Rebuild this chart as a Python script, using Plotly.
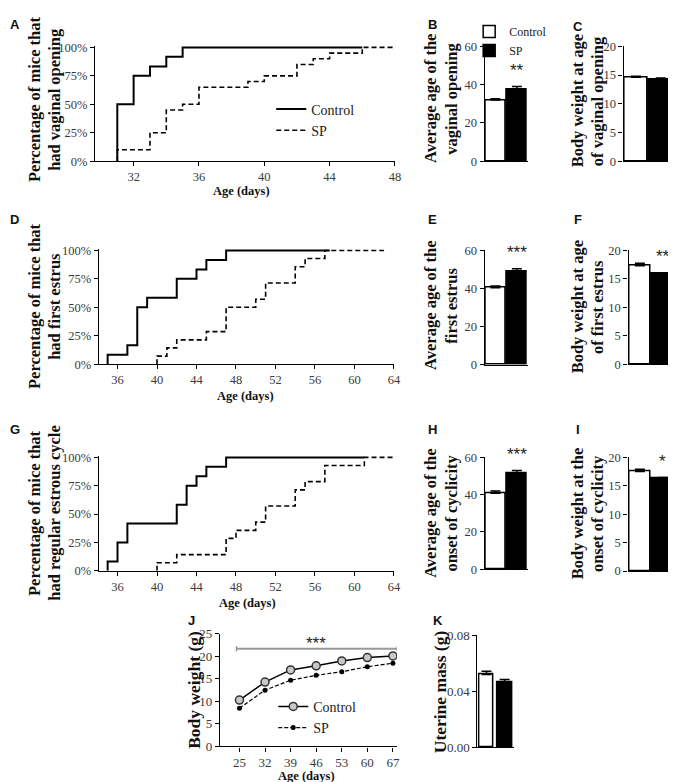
import plotly.graph_objects as go

W, H = 676, 782
SERIF = "'Liberation Serif', 'Times New Roman', Times, serif"
SANS = "'Liberation Sans', Arial, sans-serif"

# ---- data ----
groups = ["Control", "SP"]

# A: vaginal opening (cumulative %)
a_ctrl_day = [31, 31, 32, 33, 34, 35, 46]
a_ctrl_pct = [0, 50, 75, 83.3, 91.7, 100, 100]
a_sp_day = [31, 31, 33, 34, 35, 36, 39, 40, 42, 43, 44, 46, 48]
a_sp_pct = [0, 10, 25, 45, 50, 65, 70, 75, 85, 90, 95, 100, 100]

# D: first estrus
d_ctrl_day = [35, 35, 37, 38, 39, 42, 44, 45, 47, 57.5]
d_ctrl_pct = [0, 8.3, 16.7, 50, 58.3, 75, 83.3, 91.7, 100, 100]
d_sp_day = [40, 40, 41, 42, 45, 47, 50, 51, 54, 55, 57, 63]
d_sp_pct = [0, 7.1, 14.3, 21.4, 28.6, 50, 57.1, 71.4, 85.7, 92.9, 100, 100]

# G: regular estrous cycle
g_ctrl_day = [35, 35, 36, 37, 42, 43, 44, 45, 47, 61]
g_ctrl_pct = [0, 8.3, 25, 41.7, 58.3, 75, 83.3, 91.7, 100, 100]
g_sp_day = [40, 40, 42, 47, 48, 50, 51, 54, 55, 57, 61, 64]
g_sp_pct = [0, 7.1, 14.3, 28.6, 35.7, 42.9, 57.1, 71.4, 78.6, 92.9, 100, 100]

pct_ticks = [0, 25, 50, 75, 100]
pct_labels = ["0%", "25%", "50%", "75%", "100%"]

# bar panels: mean, SEM
b_mean, b_err = [32.0, 37.5], [0.6, 1.5]
c_mean, c_err = [14.6, 14.3], [0.2, 0.2]
e_mean, e_err = [40.4, 49.0], [1.0, 1.4]
f_mean, f_err = [17.3, 15.9], [0.45, 0.15]
h_mean, h_err = [40.8, 51.6], [1.1, 1.3]
i_mean, i_err = [17.5, 16.3], [0.4, 0.15]
k_mean, k_err = [0.052, 0.0465], [0.0022, 0.0019]

# J: body weight over time
j_age = [25, 32, 39, 46, 53, 60, 67]
j_ctrl = [10.3, 14.3, 17.0, 17.9, 19.0, 19.75, 20.1]
j_sp = [8.5, 12.5, 14.7, 15.8, 16.6, 17.7, 18.5]


def xdom(l, r):
    return [l / W, r / W]


def ydom(t, b):
    return [1 - b / H, 1 - t / H]


def ax(n):
    return ("x", "y") if n == 1 else (f"x{n}", f"y{n}")


fig = go.Figure()


def add_steps(n, cd, cp, sd, sp, legend=None):
    xa, ya = ax(n)
    fig.add_trace(go.Scatter(x=cd, y=cp, mode="lines", line_shape="hv",
                             line=dict(color="black", width=2),
                             name="Control", xaxis=xa, yaxis=ya,
                             showlegend=legend is not None, legend=legend))
    fig.add_trace(go.Scatter(x=sd, y=sp, mode="lines", line_shape="hv",
                             line=dict(color="black", width=1.6, dash="5px,3px"),
                             name="SP", xaxis=xa, yaxis=ya,
                             showlegend=legend is not None, legend=legend))


def add_bars(n, mean, err, width=0.95, legend=None):
    xa, ya = ax(n)
    for i, (fill, g) in enumerate(zip(["white", "black"], groups)):
        fig.add_trace(go.Bar(
            x=[i], y=[mean[i]], width=width, name=g,
            marker=dict(color=fill, line=dict(color="black", width=1.5)),
            error_y=dict(type="data", symmetric=False, array=[err[i]],
                         arrayminus=[0], color="black", thickness=1.5, width=5),
            xaxis=xa, yaxis=ya, showlegend=legend is not None, legend=legend))


add_steps(1, a_ctrl_day, a_ctrl_pct, a_sp_day, a_sp_pct, legend="legend")
add_bars(2, b_mean, b_err, legend="legend2")
add_bars(3, c_mean, c_err)
add_steps(4, d_ctrl_day, d_ctrl_pct, d_sp_day, d_sp_pct)
add_bars(5, e_mean, e_err)
add_bars(6, f_mean, f_err)
add_steps(7, g_ctrl_day, g_ctrl_pct, g_sp_day, g_sp_pct)
add_bars(8, h_mean, h_err)
add_bars(9, i_mean, i_err)

fig.add_trace(go.Scatter(x=j_age, y=j_ctrl, mode="lines+markers", name="Control",
                         line=dict(color="black", width=1.5),
                         marker=dict(symbol="circle", size=8, color="#c8c8c8",
                                     line=dict(color="#333", width=1.5)),
                         xaxis="x10", yaxis="y10", legend="legend3"))
fig.add_trace(go.Scatter(x=j_age, y=j_sp, mode="lines+markers", name="SP",
                         line=dict(color="black", width=1.2, dash="4px,2px"),
                         marker=dict(symbol="circle", size=5, color="black"),
                         xaxis="x10", yaxis="y10", legend="legend3"))
add_bars(11, k_mean, k_err, width=0.8)

TICKFONT = dict(family=SERIF, size=12.5, color="#3a3a3a")
base = dict(showline=True, linecolor="black", linewidth=1.3, ticks="outside",
            ticklen=4, tickwidth=1.2, tickcolor="black", showgrid=False,
            zeroline=False, fixedrange=True, tickfont=TICKFONT)
bar_x = dict(base, ticks="", showticklabels=False)
big_ticks = dict(TICKFONT, size=13)

step_y = dict(base, range=[0, 101.5], tickmode="array", tickvals=pct_ticks,
              ticktext=pct_labels)
# pixel boxes (left, right, top, bottom)
axes = {
    1: (dict(base, range=[29.64, 48], tickvals=[32, 36, 40, 44, 48]), step_y, (88, 391, 31.3, 149)),
    2: (dict(bar_x, range=[-0.5, 1.5]), dict(base, range=[0, 60], dtick=20), (481.7, 525, 32, 149)),
    3: (dict(bar_x, range=[-0.5, 1.5]), dict(base, range=[0, 20], dtick=5), (622, 672, 32, 149)),
    4: (dict(base, range=[34.1, 64], tickvals=list(range(36, 65, 4))), step_y, (91.7, 390, 238.3, 356)),
    5: (dict(bar_x, range=[-0.5, 1.5]), dict(base, range=[0, 60], dtick=20), (481.7, 525, 240, 356.7)),
    6: (dict(bar_x, range=[-0.5, 1.5]), dict(base, range=[0, 20], dtick=5), (627, 673, 240, 356)),
    7: (dict(base, range=[34.1, 64], tickvals=list(range(36, 65, 4))), step_y, (91.7, 390, 449.3, 566.7)),
    8: (dict(bar_x, range=[-0.5, 1.5]), dict(base, range=[0, 60], dtick=20), (481.7, 525, 451, 565)),
    9: (dict(bar_x, range=[-0.5, 1.5]), dict(base, range=[0, 20], dtick=5), (627, 673, 451, 567)),
    10: (dict(base, range=[19.7, 68.1], tickvals=j_age, tickfont=big_ticks),
         dict(base, range=[0, 25], dtick=5, tickfont=big_ticks),
         (214.3, 393, 631, 745.7)),
    11: (dict(bar_x, range=[-0.5, 1.5]),
         dict(base, range=[0, 0.08], tickvals=[0, 0.04, 0.08], tickformat=".2f",
              tickfont=big_ticks),
         (474.3, 511, 632.3, 746.7)),
}

layout = {}
for n, (xd, yd, (l, r, t, b)) in axes.items():
    xa, ya = ax(n)
    kx = "xaxis" if n == 1 else f"xaxis{n}"
    ky = "yaxis" if n == 1 else f"yaxis{n}"
    layout[kx] = dict(xd, domain=xdom(l, r), anchor=ya)
    layout[ky] = dict(yd, domain=ydom(t, b), anchor=xa)


def ann(text, x, y, size, angle=0, family=SERIF, bold=True, color="#111"):
    return dict(text=f"<b>{text}</b>" if bold else text, x=x / W, y=1 - y / H,
                xref="paper", yref="paper", showarrow=False, textangle=angle,
                xanchor="center", yanchor="middle",
                font=dict(family=family, size=size, color=color))


annotations = []
# y titles (one annotation per line)
ytitles = [
    ("Percentage of mice that", 27, 86), ("had vaginal opening", 47, 86),
    ("Average age of the", 427, 85), ("vaginal opening", 448, 85),
    ("Body weight at age", 575, 88), ("of vaginal opening", 595, 88),
    ("Percentage of mice that", 27, 297), ("had first estrus", 47, 297),
    ("Average age of the", 427, 296), ("first estrus", 448, 296),
    ("Body weight at age", 575, 298), ("of first estrus", 595, 298),
    ("Percentage of mice that", 27, 508), ("had regular estrous cycle", 47, 508),
    ("Average age of the", 427, 508), ("onset of cyclicity", 448, 508),
    ("Body weight at the", 575, 508), ("onset of cyclicity", 595, 508),
    ("Body weight (g)", 188, 688), ("Uterine mass (g)", 436, 690),
]
for txt, x, y in ytitles:
    annotations.append(ann(txt, x, y, 16.5 if "(g)" not in txt else 17.5, angle=-90))

for x, y in [(236, 179), (240, 388), (242, 599), (302, 776)]:
    annotations.append(ann("Age (days)", x, y, 12.5))

for letter, x, y in [("A", 7, 10), ("B", 429, 10), ("C", 576, 12), ("D", 7, 208),
                     ("E", 429, 208), ("F", 576, 208), ("G", 7, 423), ("H", 429, 423),
                     ("I", 576, 423), ("J", 185, 617), ("K", 434, 617)]:
    annotations.append(ann(letter, x, y, 13, family=SANS))

# significance stars
for n, mean, err, stars in [(2, b_mean, b_err, "**"), (5, e_mean, e_err, "***"),
                            (6, f_mean, f_err, "**"), (8, h_mean, h_err, "***"),
                            (9, i_mean, i_err, "*")]:
    xa, ya = ax(n)
    annotations.append(dict(text=stars, x=1, y=mean[1] + err[1], xref=xa, yref=ya,
                            showarrow=False, yanchor="bottom", yshift=5,
                            font=dict(family=SANS, size=17, color="#222")))
annotations.append(dict(text="***", x=46, y=21.7, xref="x10", yref="y10",
                        showarrow=False, yanchor="bottom", yshift=-6,
                        font=dict(family=SANS, size=17, color="#222")))

# J significance bracket
shapes = [
    dict(type="line", xref="x10", yref="y10", x0=24.2, x1=68.2, y0=21.7, y1=21.7,
         line=dict(color="#999", width=2)),
    dict(type="line", xref="x10", yref="y10", x0=24.2, x1=24.2, y0=21.1, y1=22.3,
         line=dict(color="#999", width=1.5)),
    dict(type="line", xref="x10", yref="y10", x0=68.2, x1=68.2, y0=21.1, y1=22.3,
         line=dict(color="#999", width=1.5)),
]

fig.update_layout(
    width=W, height=H, margin=dict(l=0, r=0, t=0, b=0),
    paper_bgcolor="white", plot_bgcolor="white",
    font=dict(family=SERIF, size=12.5, color="#333"),
    annotations=annotations, shapes=shapes, **layout,
    legend=dict(x=266 / W, y=1 - 80 / H, xanchor="left", yanchor="top",
                bgcolor="rgba(0,0,0,0)", tracegroupgap=0,
                font=dict(family=SERIF, size=14, color="#222")),
    legend2=dict(x=466 / W, y=1 - 2 / H, xanchor="left", yanchor="top",
                 bgcolor="rgba(0,0,0,0)", tracegroupgap=0,
                 font=dict(family=SERIF, size=12, color="#222")),
    legend3=dict(x=268 / W, y=1 - 689 / H, xanchor="left", yanchor="top",
                 bgcolor="rgba(0,0,0,0)", tracegroupgap=0,
                 font=dict(family=SERIF, size=14, color="#222")),
    bargap=0,
)

fig.write_html("out.html")
